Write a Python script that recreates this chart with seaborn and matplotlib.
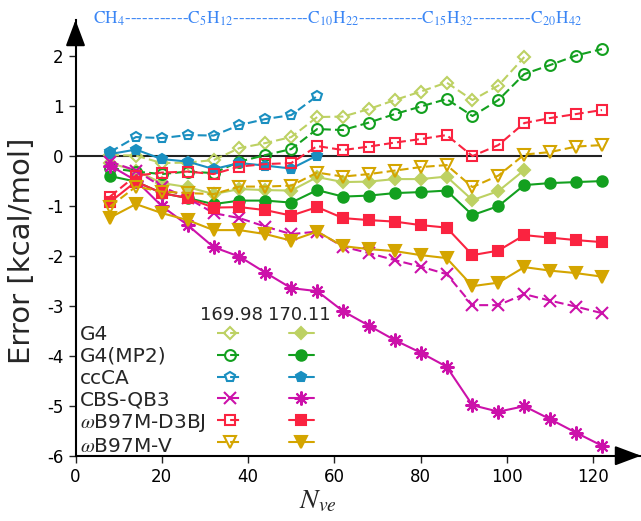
import matplotlib
matplotlib.use('Agg')
import matplotlib.pyplot as plt
import seaborn as sns
from matplotlib.lines import Line2D

# number of valence electrons, CH4 ... C20H42
nve = [8, 14, 20, 26, 32, 38, 44, 50, 56, 62, 68, 74, 80, 86, 92, 98, 104, 110, 116, 122]

# open markers / dashed lines = 169.98, filled / solid = 170.11
g4_a = [0.01, 0.0, -0.15, -0.14, -0.09, 0.15, 0.25, 0.37, 0.77, 0.78, 0.93, 1.11, 1.28, 1.46, 1.11, 1.40, 1.97]
g4_b = [-0.15, -0.30, -0.55, -0.63, -0.77, -0.67, -0.69, -0.70, -0.43, -0.53, -0.52, -0.47, -0.47, -0.42, -0.89, -0.71, -0.29]
mp2_a = [-0.25, -0.32, -0.37, -0.32, -0.35, -0.12, 0.01, 0.13, 0.53, 0.51, 0.66, 0.83, 0.98, 1.13, 0.79, 1.11, 1.63, 1.81, 2.0, 2.13]
mp2_b = [-0.41, -0.52, -0.75, -0.85, -0.97, -0.90, -0.90, -0.94, -0.69, -0.82, -0.80, -0.75, -0.73, -0.70, -1.19, -1.01, -0.59, -0.55, -0.53, -0.51]
ccca_a = [0.07, 0.37, 0.35, 0.41, 0.40, 0.61, 0.73, 0.81, 1.19]
ccca_b = [0.03, 0.12, -0.07, -0.12, -0.27, -0.15, -0.20, -0.26, 0.0]
cbs_a = [-0.12, -0.30, -0.62, -0.85, -1.15, -1.25, -1.42, -1.57, -1.52, -1.82, -1.95, -2.09, -2.22, -2.37, -2.99, -2.99, -2.77, -2.90, -3.02, -3.15]
cbs_b = [-0.20, -0.50, -1.01, -1.39, -1.83, -2.02, -2.34, -2.65, -2.71, -3.11, -3.40, -3.69, -3.94, -4.22, -4.99, -5.12, -5.01, -5.27, -5.54, -5.80]
d3bj_a = [-0.82, -0.40, -0.34, -0.32, -0.37, -0.22, -0.17, -0.15, 0.19, 0.11, 0.18, 0.26, 0.33, 0.41, -0.01, 0.21, 0.65, 0.75, 0.83, 0.91]
d3bj_b = [-0.93, -0.52, -0.75, -0.85, -1.04, -1.03, -1.09, -1.20, -1.03, -1.25, -1.29, -1.32, -1.39, -1.44, -1.99, -1.90, -1.59, -1.64, -1.69, -1.73]
v_a = [-1.02, -0.62, -0.72, -0.75, -0.77, -0.62, -0.62, -0.60, -0.34, -0.42, -0.37, -0.30, -0.23, -0.19, -0.63, -0.40, 0.02, 0.07, 0.18, 0.21]
v_b = [-1.24, -0.97, -1.15, -1.29, -1.49, -1.49, -1.57, -1.70, -1.52, -1.81, -1.87, -1.91, -1.99, -2.05, -2.61, -2.54, -2.23, -2.30, -2.35, -2.42]

names = ['G4', 'G4(MP2)', 'ccCA', 'CBS-QB3', r'$\omega$B97M-D3BJ', r'$\omega$B97M-V']
colors = ['#bdd163', '#13a01f', '#1a8fc0', '#cc11aa', '#fa2340', '#d4a500']
versions = ['169.98', '170.11']
formulas = ['CH$_4$', 'C$_5$H$_{12}$', 'C$_{10}$H$_{22}$', 'C$_{15}$H$_{32}$', 'C$_{20}$H$_{42}$']

series = [(g4_a, g4_b), (mp2_a, mp2_b), (ccca_a, ccca_b), (cbs_a, cbs_b), (d3bj_a, d3bj_b), (v_a, v_b)]
# marker, size for open / filled
mk = [('D', 6, 'D', 6), ('o', 7.8, 'o', 7.5), ('p', 7.8, 'p', 7.8),
      ('x', 8, (8, 2, 0), 10), ('s', 7, 's', 7.5), ('v', 8, 'v', 8.5)]

sns.set_style('ticks')
plt.rcParams['font.family'] = ['DejaVu Sans']
plt.rcParams['axes.unicode_minus'] = False
plt.rcParams['mathtext.fontset'] = 'stix'

fig = plt.figure(figsize=(6.41, 5.21), dpi=100)
ax = fig.add_axes([0.1178, 0.1253, 0.8822, 0.8363])

dash = (0, (4.3, 2.0))
ax.hlines(0, 0, nve[-1], color='#222222', lw=1.5, zorder=1)

open_h, fill_h = [], []
for (a, b), c, (m1, s1, m2, s2) in zip(series, colors, mk):
    sns.lineplot(x=nve[:len(a)], y=a, ax=ax, color=c, lw=1.5, linestyle=dash,
                 marker=m1, markersize=s1, markerfacecolor='none',
                 markeredgecolor=c, markeredgewidth=1.5, legend=False)
    sns.lineplot(x=nve[:len(b)], y=b, ax=ax, color=c, lw=1.5,
                 marker=m2, markersize=s2, markerfacecolor=c,
                 markeredgecolor=c, markeredgewidth=1.5, legend=False)
    open_h.append(Line2D([], [], color=c, lw=1.5, linestyle=dash, marker=m1, markersize=s1,
                         markerfacecolor='none', markeredgecolor=c, markeredgewidth=1.5))
    fill_h.append(Line2D([], [], color=c, lw=1.5, marker=m2, markersize=s2,
                         markerfacecolor=c, markeredgecolor=c, markeredgewidth=1.5))

ax.set_xlim(0, 131.05)
ax.set_ylim(-6, 2.71)
ax.set_xticks(range(0, 121, 20))
ax.set_yticks(range(-6, 3))
ax.tick_params(labelsize=12, length=5, width=1, direction='out', colors='#222222', labelcolor='black')
for s in ['top', 'right']:
    ax.spines[s].set_visible(False)
for s in ['left', 'bottom']:
    ax.spines[s].set_linewidth(1.5)
    ax.spines[s].set_color('black')

# arrow heads on the axes
arr = dict(arrowstyle='-|>,head_length=0.8,head_width=0.3', color='black', lw=1.5,
           shrinkA=0, shrinkB=0, mutation_scale=20)
ax.annotate('', xy=(1, 0), xytext=(0.96, 0), xycoords='axes fraction', arrowprops=arr, annotation_clip=False)
ax.annotate('', xy=(0, 1), xytext=(0, 0.95), xycoords='axes fraction', arrowprops=arr, annotation_clip=False)

ax.set_ylabel('Error [kcal/mol]', fontsize=21)
ax.yaxis.set_label_coords(-0.069, 0.47)
ax.set_xlabel(r'$N_{ve}$', fontsize=20)
ax.xaxis.set_label_coords(0.428, -0.07)

# legend: names | 169.98 | 170.11
blank = [Line2D([], [], linestyle='none') for _ in names]
leg = ax.legend(blank + open_h + fill_h, names + ['   '] * 12, ncol=3, fontsize=14.5,
                frameon=False, loc='upper left', bbox_to_anchor=(-0.0645, 0.300),
                handlelength=1.25, handletextpad=0.8, columnspacing=0.55,
                labelspacing=0.14, borderpad=0, borderaxespad=0)
for i, v in enumerate(versions):
    ax.text([0.275, 0.396][i], 0.324, v, transform=ax.transAxes, ha='center', va='center', fontsize=13)

top = formulas[0] + '-' * 11 + formulas[1] + '-' * 13 + formulas[2] + '-' * 11 + formulas[3] + '-' * 10 + formulas[4]
fig.text(93 / 641, 1 - 18.5 / 521, top, color='#3b86f5', fontsize=12.5, family='STIXGeneral',
         ha='left', va='center')

fig.savefig('out.png', dpi=100)
